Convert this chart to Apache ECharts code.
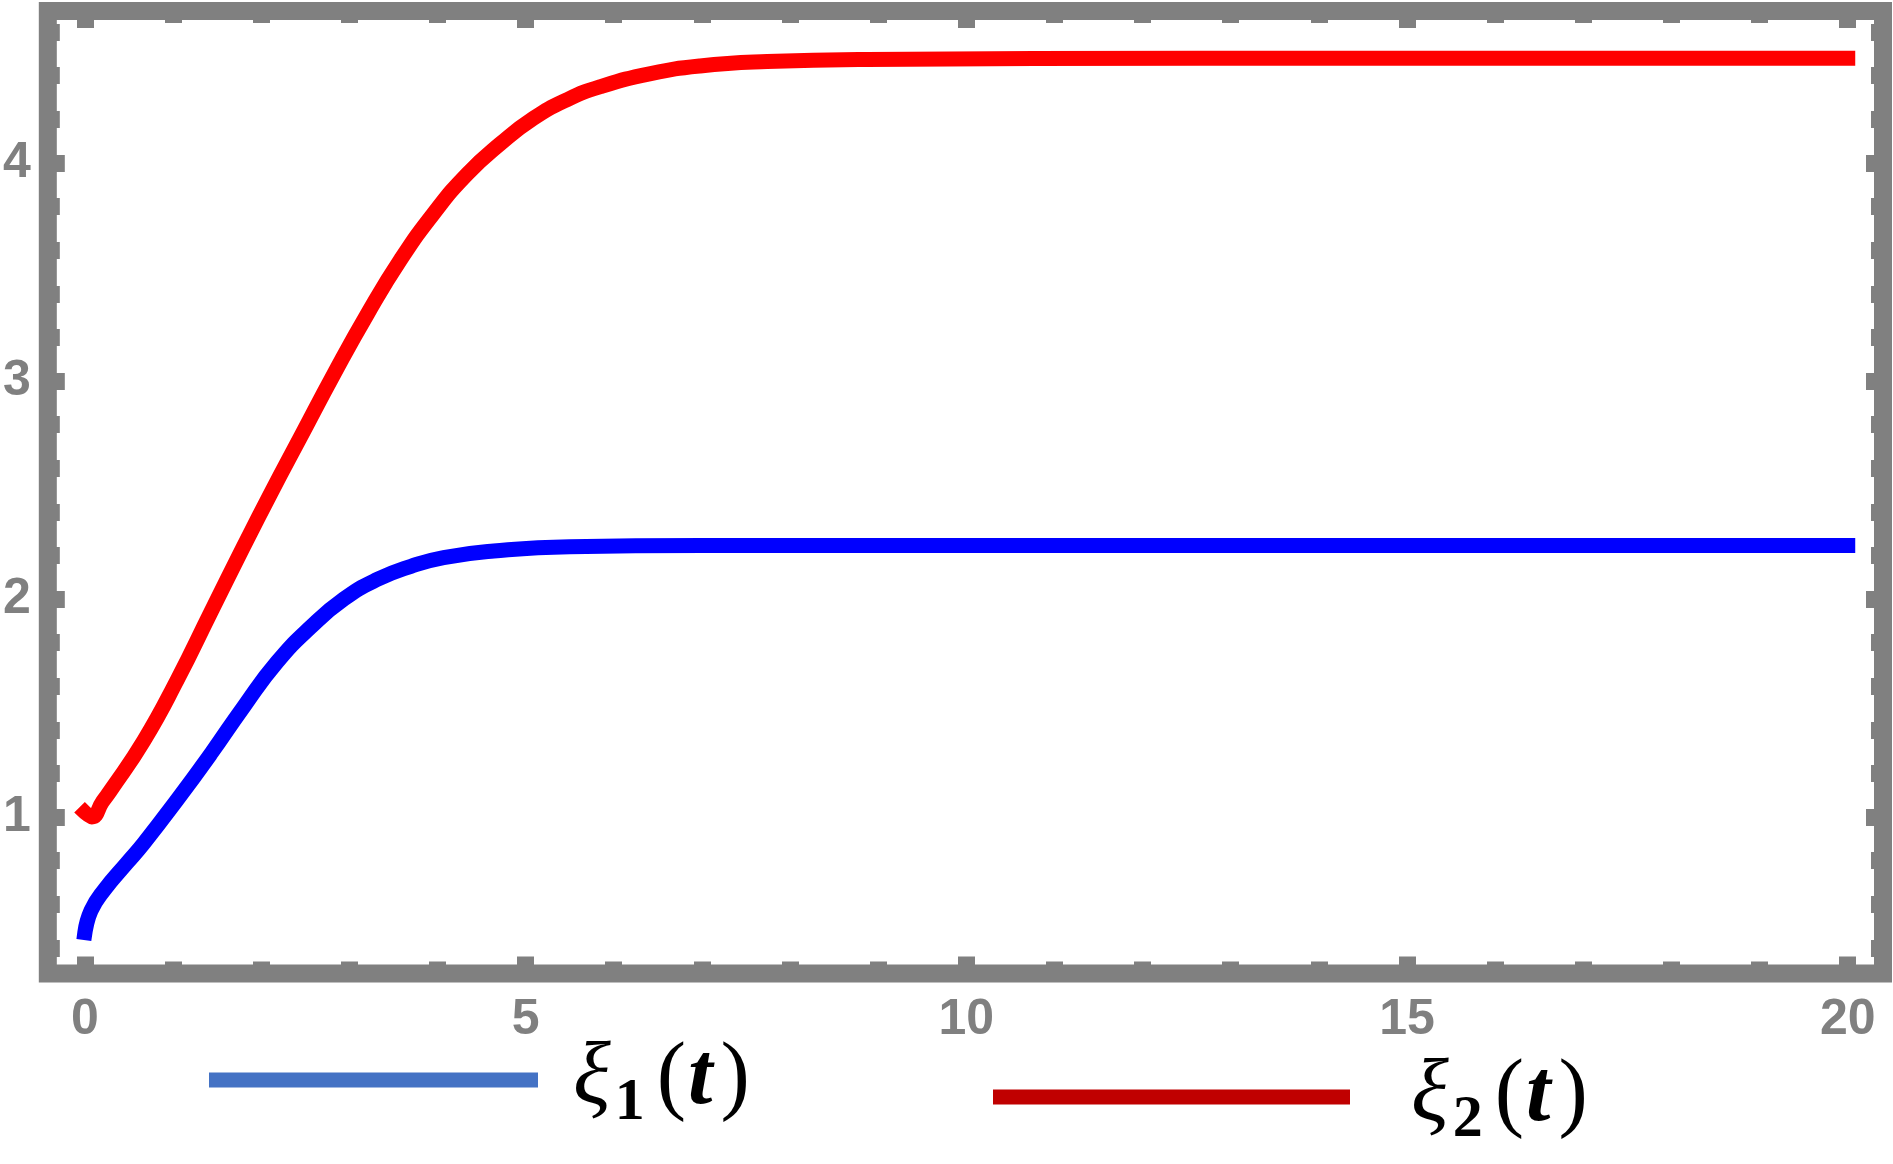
<!DOCTYPE html>
<html>
<head>
<meta charset="utf-8">
<script src="https://cdn.jsdelivr.net/npm/echarts@6/dist/echarts.min.js"></script>
<style>
  html, body { margin: 0; padding: 0; background: #fff; }
  #chart { width: 1893px; height: 1164px; }
</style>
</head>
<body>
<div id="chart"></div>
<script>
// values
const tRed = [0, 0.08, 0.2, 0.29, 0.67, 1.05, 1.43, 1.8, 2.11, 2.45, 2.83, 3.21, 3.58, 3.96, 4.34, 4.72, 5.09, 5.47, 5.85, 6.42, 6.98, 7.74, 8.87, 12.65, 20];
const xi2 = [1.02, 1.0, 1.07, 1.12, 1.35, 1.63, 1.94, 2.24, 2.485, 2.745, 3.035, 3.31, 3.555, 3.77, 3.95, 4.09, 4.205, 4.29, 4.35, 4.41, 4.445, 4.465, 4.475, 4.48, 4.48];
const tBlue = [0, 0.07, 0.22, 0.48, 0.67, 1.05, 1.43, 1.81, 2.18, 2.56, 2.94, 3.32, 3.7, 4.07, 4.64, 5.5, 7, 20];
const xi1 = [0.47, 0.57, 0.665, 0.79, 0.88, 1.08, 1.29, 1.51, 1.71, 1.87, 2.0, 2.09, 2.15, 2.19, 2.22, 2.24, 2.245, 2.245];

const xMajor = [0, 5, 10, 15, 20];
const xMinor = [1, 2, 3, 4, 6, 7, 8, 9, 11, 12, 13, 14, 16, 17, 18, 19];
const yMajor = [1, 2, 3, 4];
const yMinor = [0.4, 0.6, 0.8, 1.2, 1.4, 1.6, 1.8, 2.2, 2.4, 2.6, 2.8, 3.2, 3.4, 3.6, 3.8, 4.2, 4.4, 4.6];

const X_MIN = -0.42, X_MAX = 20.4;
const Y_MIN = 0.282, Y_MAX = 4.697;
const GRAY = "#808080";

function zip(a, b) {
  return a.map(function (v, i) { return [v, b[i]]; });
}

function axisOf(pos, min, max, ticks, len, label) {
  return {
    type: "value", position: pos, min: min, max: max,
    axisLine: { show: false, onZero: false },
    splitLine: { show: false },
    axisTick: { show: true, inside: true, length: len, customValues: ticks,
      lineStyle: { color: GRAY, width: 17 } },
    axisLabel: label
      ? { show: true, customValues: ticks, margin: label.margin, color: GRAY, fontSize: 50,
          fontWeight: "bold", fontFamily: "Liberation Sans" }
      : { show: false },
  };
}

const rich = {
  g: { fontFamily: "Liberation Serif", fontStyle: "italic", fontSize: 88, lineHeight: 100, color: "#000" },
  s: { fontFamily: "Liberation Serif", fontWeight: "bold", fontSize: 60, lineHeight: 100, padding: [46, 0, 0, 4], color: "#000" },
  p: { fontFamily: "Liberation Serif", fontSize: 88, lineHeight: 100, padding: [0, 0, 0, 12], color: "#000" },
  t: { fontFamily: "Liberation Serif", fontStyle: "italic", fontWeight: "bold", fontSize: 88, lineHeight: 100, padding: [0, 0, 0, 2], color: "#000" },
  q: { fontFamily: "Liberation Serif", fontSize: 88, lineHeight: 100, padding: [0, 0, 0, 8], color: "#000" },
};

function legendOf(name, color, left, top, width, gap) {
  return {
    data: [{ name: name, itemStyle: { color: color, borderWidth: 0 } }],
    left: left, top: top, padding: 0,
    icon: "rect", itemWidth: width, itemHeight: 15,
    selectedMode: false,
    formatter: function (n) {
      const k = n === "xi1" ? "1" : "2";
      return "{g|ξ}{s|" + k + "}{p|(}{t|t}{q|)}";
    },
    textStyle: { rich: Object.assign({}, rich, { g: Object.assign({}, rich.g, { padding: [0, 0, 0, gap] }) }) },
  };
}

const chart = echarts.init(document.getElementById("chart"));
chart.setOption({
  backgroundColor: "#fff",
  animation: false,
  grid: {
    left: 47, right: 10, top: 11, bottom: 190.5,
    show: true, borderWidth: 18, borderColor: GRAY, backgroundColor: "transparent",
  },
  xAxis: [
    axisOf("bottom", X_MIN, X_MAX, xMajor, 17, { margin: 22 }),
    axisOf("bottom", X_MIN, X_MAX, xMinor, 12, null),
    axisOf("top", X_MIN, X_MAX, xMajor, 17, null),
    axisOf("top", X_MIN, X_MAX, xMinor, 12, null),
  ],
  yAxis: [
    axisOf("left", Y_MIN, Y_MAX, yMajor, 17, { margin: 17 }),
    axisOf("left", Y_MIN, Y_MAX, yMinor, 12, null),
    axisOf("right", Y_MIN, Y_MAX, yMajor, 17, null),
    axisOf("right", Y_MIN, Y_MAX, yMinor, 12, null),
  ],
  legend: [
    legendOf("xi1", "#4472C4", 209, 1027, 329, 30),
    legendOf("xi2", "#C00000", 993, 1044, 357, 56),
  ],
  series: [
    {
      name: "xi1", type: "line", xAxisIndex: 0, yAxisIndex: 0,
      data: zip(tBlue, xi1),
      showSymbol: false, smooth: 0.5,
      lineStyle: { color: "#0000FF", width: 15, cap: "square", join: "round" },
      itemStyle: { color: "#0000FF" },
    },
    {
      name: "xi2", type: "line", xAxisIndex: 0, yAxisIndex: 0,
      data: zip(tRed, xi2),
      showSymbol: false, smooth: 0.5,
      lineStyle: { color: "#FF0000", width: 15, cap: "square", join: "round" },
      itemStyle: { color: "#FF0000" },
    },
  ],
});
</script>
</body>
</html>
